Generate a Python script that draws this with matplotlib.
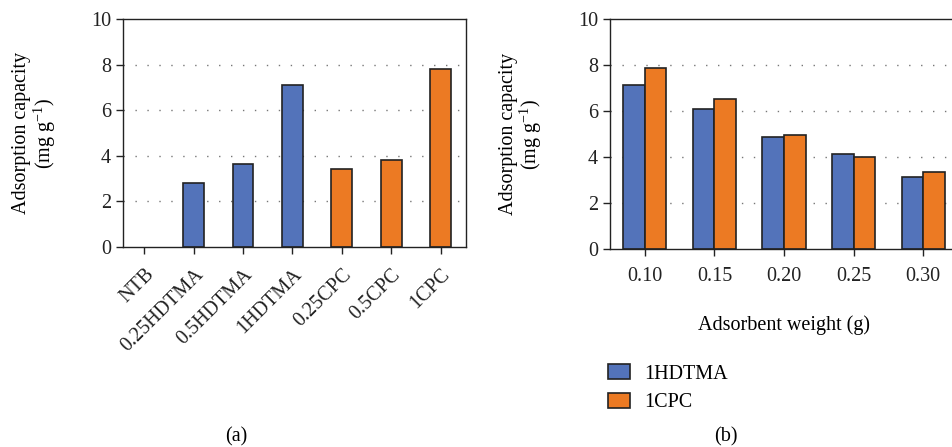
import numpy as np
import matplotlib
matplotlib.use("Agg")
import matplotlib.pyplot as plt

# panel (a): adsorption capacity of each adsorbent
samples = ["NTB", "0.25HDTMA", "0.5HDTMA", "1HDTMA", "0.25CPC", "0.5CPC", "1CPC"]
capacity = [0.0, 2.82, 3.63, 7.13, 3.44, 3.81, 7.82]
sample_group = ["none", "HDTMA", "HDTMA", "HDTMA", "CPC", "CPC", "CPC"]

# panel (b): effect of adsorbent weight
weights = ["0.10", "0.15", "0.20", "0.25", "0.30"]
hdtma_vals = [7.16, 6.11, 4.87, 4.13, 3.16]
cpc_vals = [7.90, 6.53, 4.98, 4.00, 3.35]
series_names = ["1HDTMA", "1CPC"]

y_ticks = [0, 2, 4, 6, 8, 10]

BLUE = "#5373BA"
ORANGE = "#EC7A23"
EDGE = "#222222"

plt.rcParams['font.family'] = ['Liberation Serif', 'DejaVu Serif']
plt.rcParams['mathtext.fontset'] = 'custom'
plt.rcParams['mathtext.rm'] = 'Liberation Serif'
plt.rcParams['mathtext.it'] = 'Liberation Serif:italic'
plt.rcParams['font.size'] = 14.5
plt.rcParams['axes.linewidth'] = 1.0

fig = plt.figure(figsize=(9.52, 4.47), dpi=100)
W, H = 952.0, 447.0


def style_axes(ax):
    ax.set_ylim(0, 10)
    ax.set_yticks(y_ticks)
    ax.tick_params(axis='both', direction='out', length=5, width=1.0, colors='#222222')
    ax.tick_params(axis='x', pad=8)
    for s in ax.spines.values():
        s.set_color('#222222')
    ax.set_axisbelow(True)
    ax.yaxis.grid(True, color='#777777', linewidth=1.0, linestyle=(0, (1.0, 7.6)))
    ax.set_ylabel("Adsorption capacity\n(mg g$^{-1}$)", linespacing=1.0)
    ax.yaxis.set_label_coords(-0.19, 0.5)
    # no grid line on the baseline or the top spine
    for gl, t in zip(ax.yaxis.get_gridlines(), y_ticks):
        if t in (0, 10):
            gl.set_visible(False)


# ---- panel (a)
ax1 = fig.add_axes([122.7 / W, 1 - 247 / H, 343 / W, 227.7 / H])
colors = {"none": BLUE, "HDTMA": BLUE, "CPC": ORANGE}
x1 = np.arange(len(samples))
ax1.bar(x1, capacity, width=0.42, color=[colors[g] for g in sample_group],
        edgecolor=[EDGE if v > 0 else 'none' for v in capacity], linewidth=1.2)
ax1.set_xlim(-0.44, 6.51)
ax1.set_xticks(x1)
ax1.set_xticklabels(samples, rotation=45, ha='right', rotation_mode='anchor')
style_axes(ax1)

# ---- panel (b)
ax2 = fig.add_axes([610 / W, 1 - 249.3 / H, 348 / W, 230 / H])
x2 = np.arange(len(weights))
bw = 0.31
ax2.bar(x2 - bw / 2, hdtma_vals, width=bw, color=BLUE, edgecolor=EDGE,
        linewidth=1.2, label=series_names[0])
ax2.bar(x2 + bw / 2, cpc_vals, width=bw, color=ORANGE, edgecolor=EDGE,
        linewidth=1.2, label=series_names[1])
ax2.set_xlim(-0.5, 4.5)
ax2.set_xticks(x2)
ax2.set_xticklabels(weights)
style_axes(ax2)
ax2.spines['right'].set_visible(False)
ax2.set_xlabel("Adsorbent weight (g)", labelpad=21)

fig.legend(loc='upper left', bbox_to_anchor=(608 / W, 1 - 364 / H), frameon=False,
           handlelength=1.1, handleheight=0.8, handletextpad=0.7,
           labelspacing=0.45, borderpad=0, borderaxespad=0)

fig.text(236 / W, 1 - 437 / H, "(a)", ha='center', va='center')
fig.text(726 / W, 1 - 437 / H, "(b)", ha='center', va='center')

fig.savefig("out.png", dpi=100)
